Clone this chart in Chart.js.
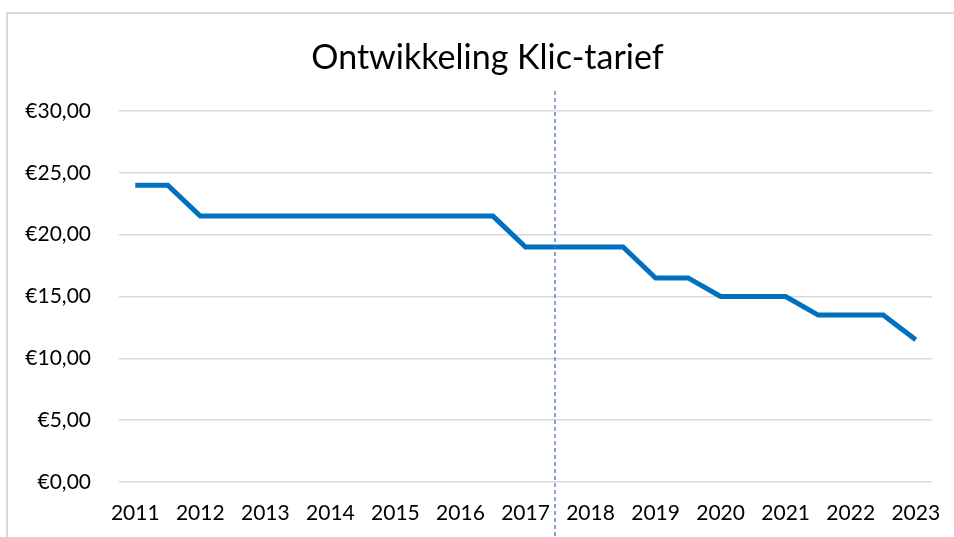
<!DOCTYPE html>
<html>
<head>
<meta charset="utf-8">
<script src="https://cdn.jsdelivr.net/npm/chart.js@4/dist/chart.umd.min.js"></script>
<style>
  html, body { margin: 0; padding: 0; background: #fff; }
  #wrap { width: 954px; height: 537px; position: relative; }
</style>
</head>
<body>
<div id="wrap"><canvas id="klic" width="954" height="537"></canvas></div>
<script>
// half-year periods, label only on whole years
const periods = ['2011', '2011b', '2012', '2012b', '2013', '2013b', '2014', '2014b',
  '2015', '2015b', '2016', '2016b', '2017', '2017b', '2018', '2018b', '2019', '2019b',
  '2020', '2020b', '2021', '2021b', '2022', '2022b', '2023'];
const tariff = [24, 24, 21.5, 21.5, 21.5, 21.5, 21.5, 21.5, 21.5, 21.5, 21.5, 21.5,
  19, 19, 19, 19, 16.5, 16.5, 15, 15, 15, 13.5, 13.5, 13.5, 11.5];
const yTicks = [0, 5, 10, 15, 20, 25, 30];
const markerYear = 2017.45;
const titleText = 'Ontwikkeling Klic-tarief';

const font = 'Lato, "Open Sans", sans-serif';

function euro(v) {
  return '€' + v.toFixed(2).replace('.', ',');
}

// title, dashed vertical marker and chart frame
const extras = {
  id: 'extras',
  afterDraw(chart) {
    const ctx = chart.ctx;
    const x = chart.scales.x;
    const pos = (markerYear - 2011) * 2;
    const i = Math.floor(pos);
    const px = x.getPixelForValue(i) + (pos - i) * (x.getPixelForValue(i + 1) - x.getPixelForValue(i));
    ctx.save();
    ctx.fillStyle = '#000';
    ctx.font = '34px ' + font;
    ctx.textAlign = 'center';
    ctx.textBaseline = 'middle';
    ctx.fillText(titleText, 487.5, 58);

    ctx.strokeStyle = '#4472c4';
    ctx.lineWidth = 1.3;
    ctx.setLineDash([4, 3]);
    ctx.beginPath();
    ctx.moveTo(Math.round(px), 91);
    ctx.lineTo(Math.round(px), chart.height);
    ctx.stroke();
    ctx.setLineDash([]);
    ctx.strokeStyle = '#d9d9d9';
    ctx.lineWidth = 2;
    ctx.beginPath();
    ctx.moveTo(7, chart.height);
    ctx.lineTo(7, 13);
    ctx.lineTo(chart.width, 13);
    ctx.stroke();
    ctx.restore();
  }
};

new Chart(document.getElementById('klic'), {
  type: 'line',
  data: {
    labels: periods,
    datasets: [{
      data: tariff,
      borderColor: '#0070c0',
      borderWidth: 5,
      pointRadius: 0,
      tension: 0,
      borderJoinStyle: 'miter',
      borderCapStyle: 'butt'
    }]
  },
  options: {
    responsive: false,
    animation: false,
    layout: { padding: { left: 0, right: 22, top: 111, bottom: 0 } },
    plugins: {
      legend: { display: false },
      tooltip: { enabled: false },
      title: { display: false }
    },
    scales: {
      x: {
        offset: true,
        grid: { display: false, drawTicks: false },
        border: { display: false },
        afterFit(s) {
          s.height = 55;
          s.paddingLeft = 0;
          s.paddingRight = 0;
        },
        ticks: {
          autoSkip: false,
          maxRotation: 0,
          padding: 19,
          color: '#000',
          font: { family: font, size: 21 },
          callback(v, i) { return i % 2 === 0 ? periods[i] : ''; }
        }
      },
      y: {
        min: 0,
        max: 30,
        afterFit(s) {
          s.width = 119;
          s.paddingTop = 0;
          s.paddingBottom = 0;
        },
        afterBuildTicks(s) { s.ticks = yTicks.map(v => ({ value: v })); },
        grid: { color: '#d9d9d9', lineWidth: 1.5, drawTicks: false },
        border: { display: false },
        ticks: {
          padding: 28,
          color: '#000',
          font: { family: font, size: 21 },
          callback: v => euro(v)
        }
      }
    }
  },
  plugins: [extras]
});
</script>
</body>
</html>
